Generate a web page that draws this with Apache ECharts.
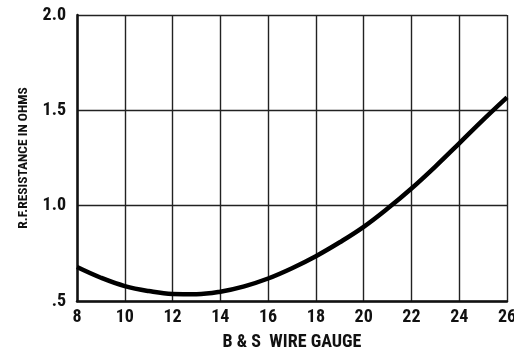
<!DOCTYPE html>
<html>
<head>
<meta charset="utf-8">
<script src="https://cdn.jsdelivr.net/npm/echarts@6/dist/echarts.min.js"></script>
<style>
  html, body { margin: 0; padding: 0; background: #fff; }
  #chart { width: 514px; height: 348px; }
</style>
</head>
<body>
<div id="chart"></div>
<script>
// B & S wire gauge and the R.F. resistance measured for each
const gauges = [8, 9, 10, 11, 12, 13, 14, 15, 16, 17, 18, 19, 20, 21, 22, 23, 24, 25, 26];
const resistance = [0.678, 0.622, 0.578, 0.552, 0.537, 0.536, 0.549, 0.577, 0.618, 0.672,
                    0.735, 0.808, 0.889, 0.985, 1.090, 1.205, 1.327, 1.450, 1.568];
const xTicks = { min: 8, max: 26, step: 2 };
const yTicks = { min: 0.5, max: 2.0, step: 0.5 };

// Roboto's width axis gives a bold condensed gothic face
const FONT = 'Roboto';
const WEIGHT = 'bold condensed';
const INK = '#111';

const chart = echarts.init(document.getElementById('chart'), null, { renderer: 'canvas' });
chart.setOption({
  animation: false,
  backgroundColor: '#fff',
  grid: { left: 77, right: 7, top: 15, bottom: 47, containLabel: false, outerBoundsMode: 'none' },
  xAxis: {
    type: 'value',
    min: xTicks.min, max: xTicks.max, interval: xTicks.step,
    name: 'B & S  WIRE GAUGE',
    nameLocation: 'middle',
    nameGap: 32,
    nameTextStyle: { fontFamily: FONT, fontWeight: WEIGHT, fontSize: 18, color: INK },
    axisLine: { show: true, onZero: false, lineStyle: { color: INK, width: 2.5 } },
    axisTick: { show: false },
    axisLabel: { margin: 7, fontFamily: FONT, fontWeight: WEIGHT, fontSize: 18, color: INK },
    splitLine: { show: true, lineStyle: { color: '#222', width: 1.4 } }
  },
  yAxis: {
    type: 'value',
    min: yTicks.min, max: yTicks.max, interval: yTicks.step,
    name: 'R.F.RESISTANCE IN OHMS',
    nameLocation: 'middle',
    nameGap: 46,
    nameRotate: 90,
    nameTextStyle: { fontFamily: FONT, fontWeight: WEIGHT, fontSize: 13.5, color: INK },
    axisLine: { show: true, onZero: false, lineStyle: { color: INK, width: 2.5 } },
    axisTick: { show: false },
    axisLabel: {
      margin: 11, fontFamily: FONT, fontWeight: WEIGHT, fontSize: 18, color: INK,
      formatter: v => (v === 0.5 ? '.5' : v.toFixed(1))
    },
    splitLine: { show: true, lineStyle: { color: '#222', width: 1.4 } }
  },
  series: [{
    type: 'line',
    data: gauges.map((g, i) => [g, resistance[i]]),
    smooth: 0.4,
    showSymbol: false,
    lineStyle: { color: '#000', width: 4.5 },
    clip: true
  }]
});
</script>
</body>
</html>
